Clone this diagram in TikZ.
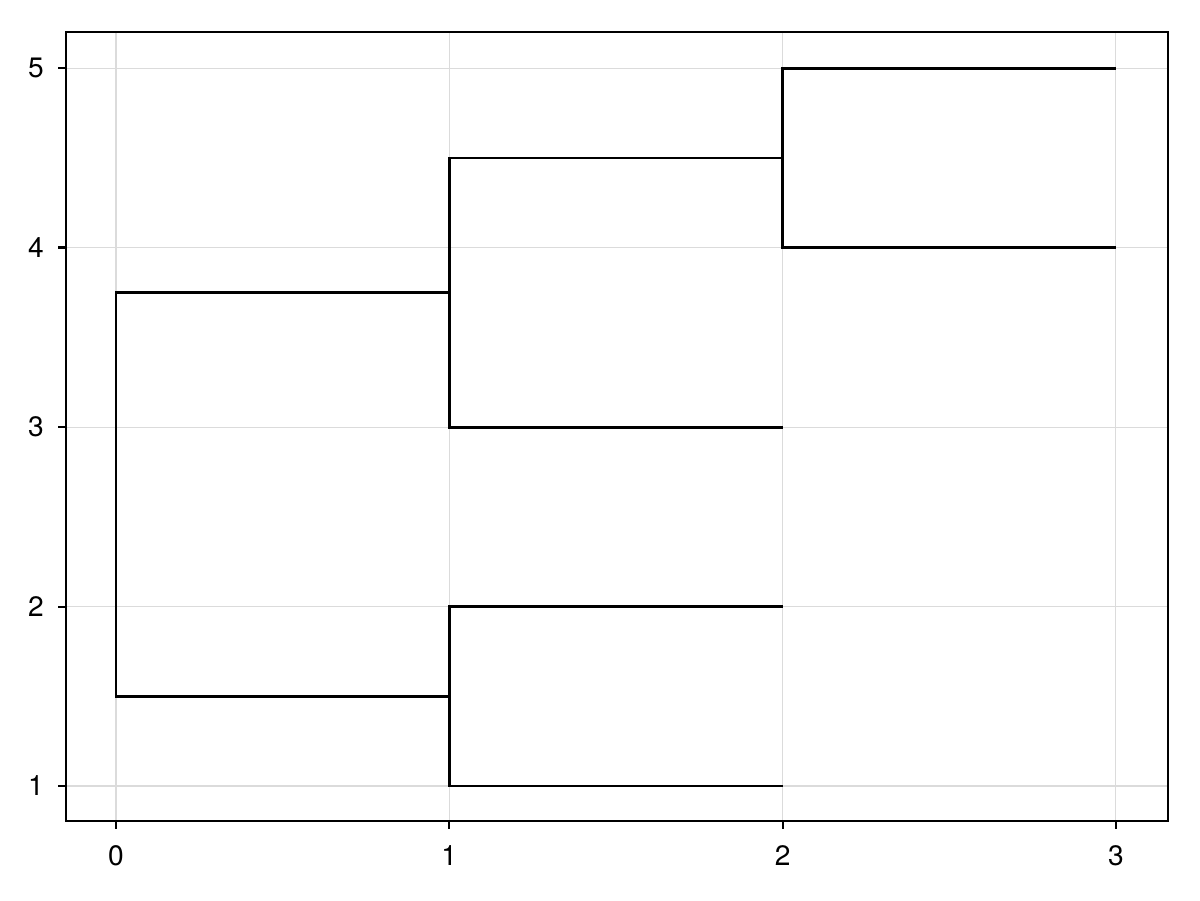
\documentclass[tikz,border=0pt]{standalone}
\usepackage{fontspec}
\setmainfont{TeX Gyre Heros}
\begin{document}
\begin{tikzpicture}[x=0.02cm,y=-0.02cm,
  grid/.style={draw=black!14,line width=0.7pt},
  frame/.style={draw=black,line width=1.15pt},
  tickmark/.style={draw=black,line width=1.15pt},
  branch/.style={draw=black,line width=1.6pt,line join=miter},
  ticklabel/.style={font=\fontsize{16pt}{19pt}\selectfont,inner sep=0pt}]
\useasboundingbox (0,0) rectangle (1200,900);
\coordinate (fbl) at (66,821);
\coordinate (ftr) at (1168,32);
\begin{scope}[shift={(116,965.5)},x=6.6667cm,y=3.59cm]
  % grid
  \foreach \i in {0,1,2,3} {
    \coordinate (gx\i) at (\i,0);
    \draw[grid] (\i,0.8) -- (\i,5.2);
  }
  \foreach \j in {1,2,3,4,5} {
    \draw[grid] (-0.15,\j) -- (3.155,\j);
  }
  % dendrogram
  \coordinate (l1) at (2,1);
  \coordinate (l2) at (2,2);
  \coordinate (l3) at (2,3);
  \coordinate (l4) at (3,4);
  \coordinate (l5) at (3,5);
  \coordinate (m45a) at (2,4);
  \coordinate (m45b) at (2,5);
  \coordinate (m12a) at (1,1);
  \coordinate (m12b) at (1,2);
  \coordinate (m3a) at (1,3);
  \coordinate (m3b) at (1,4.5);
  \coordinate (r1) at (1,1.5);
  \coordinate (r2) at (1,3.75);
  \draw[branch] (l4) -- (m45a) -- (m45b) -- (l5);
  \draw[branch] (l1) -- (m12a) -- (m12b) -- (l2);
  \draw[branch] (l3) -- (m3a) -- (m3b) -- (2,4.5);
  \draw[branch] (r1) -- (0,1.5) -- (0,3.75) -- (r2);
\end{scope}
% frame
\draw[frame] (fbl) rectangle (ftr);
% x ticks and labels
\foreach \i/\px in {0/116,1/449.3,2/782.7,3/1116} {
  \draw[tickmark] (\px,821) -- (\px,829);
  \node[ticklabel,anchor=north] (xl\i) at (\px,845) {\i};
}
% y ticks and labels
\foreach \j/\py in {1/786,2/606.5,3/427,4/247.5,5/68} {
  \draw[tickmark] (66,\py) -- (58,\py);
  \node[ticklabel,anchor=east] (yl\j) at (44,\py) {\j};
}
\end{tikzpicture}
\end{document}
